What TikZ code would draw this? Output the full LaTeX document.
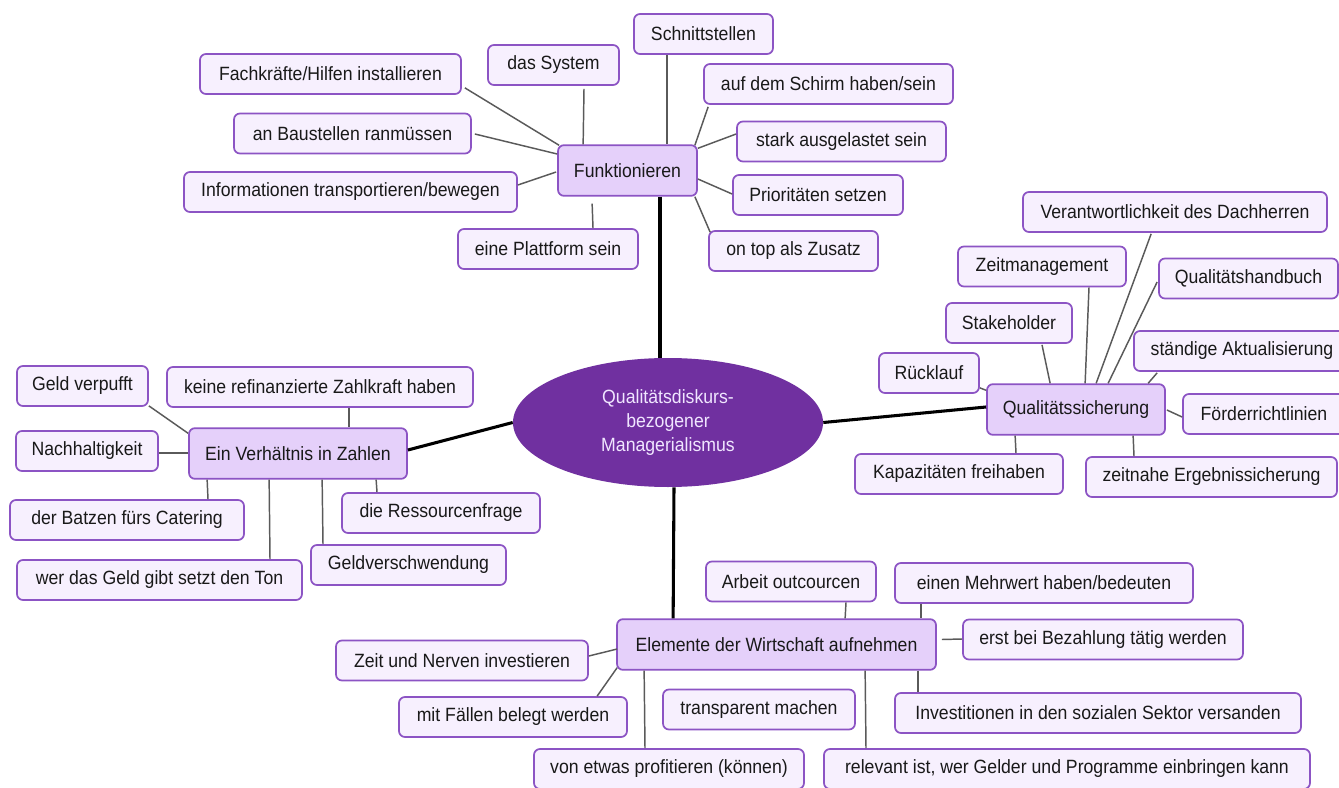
\documentclass[tikz,border=0pt]{standalone}
\usepackage{fontspec}
\setmainfont{Liberation Sans}[FakeStretch=0.92]
\usetikzlibrary{calc,shapes.geometric}

\definecolor{boxborder}{RGB}{140,84,196}
\definecolor{leaffill}{RGB}{247,240,254}
\definecolor{hubfill}{RGB}{229,208,250}
\definecolor{corefill}{RGB}{112,48,160}
\definecolor{coretext}{RGB}{240,230,255}
\definecolor{linkgray}{RGB}{90,90,90}

\begin{document}
\begin{tikzpicture}[x=0.75pt,y=-0.75pt,
  every node/.style={font=\fontsize{14.4}{17}\selectfont},
  leaf/.style={draw=boxborder,fill=leaffill,rounded corners=4.5pt,line width=1.3pt,
    minimum height=30pt,inner sep=0pt,text=black!90},
  hub/.style={leaf,fill=hubfill,minimum height=38pt},
  bw/.style={minimum width=#1*0.75pt},
  link/.style={draw=linkgray,line width=1.1pt},
  trunk/.style={draw=black,line width=2.3pt}]

\useasboundingbox (0,0) rectangle (1339,788);
\fill[white] (0,0) rectangle (1339,788);

% central topic
\node[ellipse,fill=corefill,text=coretext,minimum width=232.5pt,minimum height=96.75pt,
  inner sep=0pt,align=center,font=\fontsize{14.4}{18}\selectfont] (core) at (668,422.5)
  {Qualitätsdiskurs-\\bezogener\\Managerialismus};

% branch: Funktionieren
\node[hub,bw=139]  (fun)    at (627.5,170.5) {Funktionieren};
\node[leaf,bw=139] (schn)   at (703.5,34)    {Schnittstellen};
\node[leaf,bw=131] (sys)    at (553.5,65)    {das System};
\node[leaf,bw=261] (fach)   at (330.5,74)    {Fachkräfte/Hilfen installieren};
\node[leaf,bw=249] (schirm) at (828.5,84)    {auf dem Schirm haben/sein};
\node[leaf,bw=237] (baust)  at (352.5,133.5) {an Baustellen ranmüssen};
\node[leaf,bw=209] (stark)  at (841.5,141.5) {stark ausgelastet sein};
\node[leaf,bw=333] (info)   at (350.5,192)   {Informationen transportieren/bewegen};
\node[leaf,bw=170] (prio)   at (818,195)     {Prioritäten setzen};
\node[leaf,bw=180] (platt)  at (548,249)     {eine Plattform sein};
\node[leaf,bw=169] (ontop)  at (793.5,251)   {on top als Zusatz};

% branch: Ein Verhältnis in Zahlen
\node[hub,bw=218]  (verh)   at (298,453.5)   {Ein Verhältnis in Zahlen};
\node[leaf,bw=131] (verp)   at (82.5,386)    {Geld verpufft};
\node[leaf,bw=306] (keine)  at (320,387)     {keine refinanzierte Zahlkraft haben};
\node[leaf,bw=142] (nach)   at (87,451)      {Nachhaltigkeit};
\node[leaf,bw=234] (batzen) at (127,520)     {der Batzen fürs Catering};
\node[leaf,bw=198] (ress)   at (441,513)     {die Ressourcenfrage};
\node[leaf,bw=285] (wer)    at (159.5,580)   {wer das Geld gibt setzt den Ton};
\node[leaf,bw=195] (geldv)  at (408.5,565)   {Geldverschwendung};

% branch: Qualitätssicherung
\node[hub,bw=178]  (qs)     at (1076,409.5)  {Qualitätssicherung};
\node[leaf,bw=304] (veran)  at (1175,212)    {Verantwortlichkeit des Dachherren};
\node[leaf,bw=168] (zeit)   at (1042,266.5)  {Zeitmanagement};
\node[leaf,bw=179] (qhb)    at (1248.5,278.5){Qualitätshandbuch};
\node[leaf,bw=126] (stake)  at (1009,323)    {Stakeholder};
\node[leaf,bw=216] (staend) at (1242,351)    {ständige Aktualisierung};
\node[leaf,bw=100] (rueck)  at (929,373)     {Rücklauf};
\node[leaf,bw=162] (foerd)  at (1264,414)    {Förderrichtlinien};
\node[leaf,bw=208] (kap)    at (959,474)     {Kapazitäten freihaben};
\node[leaf,bw=251] (zeitn)  at (1211.5,477)  {zeitnahe Ergebnissicherung};

% branch: Elemente der Wirtschaft aufnehmen
\node[hub,bw=319]  (elem)   at (776.5,644.5) {Elemente der Wirtschaft aufnehmen};
\node[leaf,bw=170] (arb)    at (791,581.5)   {Arbeit outcourcen};
\node[leaf,bw=298] (mehr)   at (1044,583)    {einen Mehrwert haben/bedeuten};
\node[leaf,bw=280] (erst)   at (1103,639.5)  {erst bei Bezahlung tätig werden};
\node[leaf,bw=252] (nerv)   at (462,660.5)   {Zeit und Nerven investieren};
\node[leaf,bw=228] (faelle) at (513,717)     {mit Fällen belegt werden};
\node[leaf,bw=192] (transp) at (759,709.5)   {transparent machen};
\node[leaf,bw=406] (invest) at (1098,713)    {Investitionen in den sozialen Sektor versanden};
\node[leaf,bw=270] (profit) at (669,769)     {von etwas profitieren (können)};
\node[leaf,bw=486] (relev)  at (1067,769)    {relevant ist, wer Gelder und Programme einbringen kann};

% main branches
\draw[trunk] ($(fun.south)+(32.5,0)$) -- ($(core.north)+(-8,0)$);
\draw[trunk] ($(verh.east)+(0,-3.5)$) -- (core.west);
\draw[trunk] (core.east) -- ($(qs.west)+(0,-2.5)$);
\draw[trunk] ($(core.south)+(6,0)$) -- ($(elem.north west)+(57,0)$);

% Funktionieren
\draw[link] ($(fach.south east)+(3,-7)$) -- ($(fun.north west)+(2,1)$);
\draw[link] ($(sys.south)+(30.5,3)$) -- ($(fun.north west)+(26,0)$);
\draw[link] ($(baust.east)+(3,0.5)$) -- ($(fun.west)+(0,-16.5)$);
\draw[link] ($(info.east)+(0,-7)$) -- ($(fun.west)+(-1,1.5)$);
\draw[link] ($(fun.south west)+(35,7)$) -- ($(platt.north)+(45,0)$);
\draw[link] ($(schn.south)+(-36.5,0)$) -- ($(fun.north)+(39.5,0)$);
\draw[link] ($(schirm.south west)+(5,2)$) -- ($(fun.north east)+(-3,1)$);
\draw[link] ($(stark.west)+(0,-7.5)$) -- ($(fun.north east)+(0,4)$);
\draw[link] ($(prio.west)+(0,-1)$) -- ($(fun.east)+(0,8.5)$);
\draw[link] ($(ontop.north west)+(2,2)$) -- ($(fun.south east)+(-3,0)$);

% Ein Verhältnis in Zahlen
\draw[link] ($(verp.south east)+(0,-1)$) -- ($(verh.north west)+(0,6)$);
\draw[link] ($(keine.south)+(29,0)$) -- ($(verh.north)+(51,0)$);
\draw[link] ($(nach.east)+(0,2)$) -- ($(verh.west)+(0,-0.5)$);
\draw[link] ($(verh.south west)+(19,0)$) -- ($(batzen.north)+(81,0)$);
\draw[link] ($(verh.south west)+(81,0)$) -- ($(wer.north)+(110.5,0)$);
\draw[link] ($(verh.south west)+(134,0)$) -- ($(geldv.north)+(-85.5,0)$);
\draw[link] ($(verh.south west)+(188,0)$) -- ($(ress.north)+(-64,0)$);

% Qualitätssicherung
\draw[link] ($(veran.south west)+(129,1)$) -- ($(qs.north west)+(110,0)$);
\draw[link] ($(zeit.south)+(47,0)$) -- ($(qs.north west)+(99,0)$);
\draw[link] ($(qhb.west)+(-1,3.5)$) -- ($(qs.north west)+(122,0)$);
\draw[link] ($(stake.south)+(33,1)$) -- ($(qs.north west)+(64,0)$);
\draw[link] ($(staend.south west)+(24,1)$) -- ($(qs.north west)+(162,0)$);
\draw[link] ($(rueck.south east)+(0,-6)$) -- ($(qs.north west)+(0,7)$);
\draw[link] ($(qs.east)+(1,0.5)$) -- ($(foerd.west)+(0,3)$);
\draw[link] ($(qs.south west)+(29,0)$) -- ($(kap.north)+(57,0)$);
\draw[link] ($(qs.south west)+(147,0)$) -- ($(zeitn.north)+(-77.5,0)$);

% Elemente der Wirtschaft aufnehmen
\draw[link] ($(arb.south)+(55,0)$) -- ($(elem.north west)+(229,0)$);
\draw[link] ($(mehr.south west)+(27,0)$) -- ($(elem.north west)+(305,0)$);
\draw[link] ($(elem.east)+(5,-5)$) -- ($(erst.west)+(0,-0.5)$);
\draw[link] ($(nerv.east)+(0,-4.5)$) -- ($(elem.west)+(1,4.5)$);
\draw[link] ($(faelle.north west)+(199,0)$) -- ($(elem.south west)+(1,-3)$);
\draw[link] ($(elem.south west)+(28,0)$) -- ($(profit.north)+(-24,0)$);
\draw[link] ($(elem.south west)+(249,0)$) -- ($(relev.north)+(-201,0)$);
\draw[link] ($(elem.south west)+(302,0)$) -- ($(invest.north west)+(24,0)$);
\end{tikzpicture}
\end{document}
